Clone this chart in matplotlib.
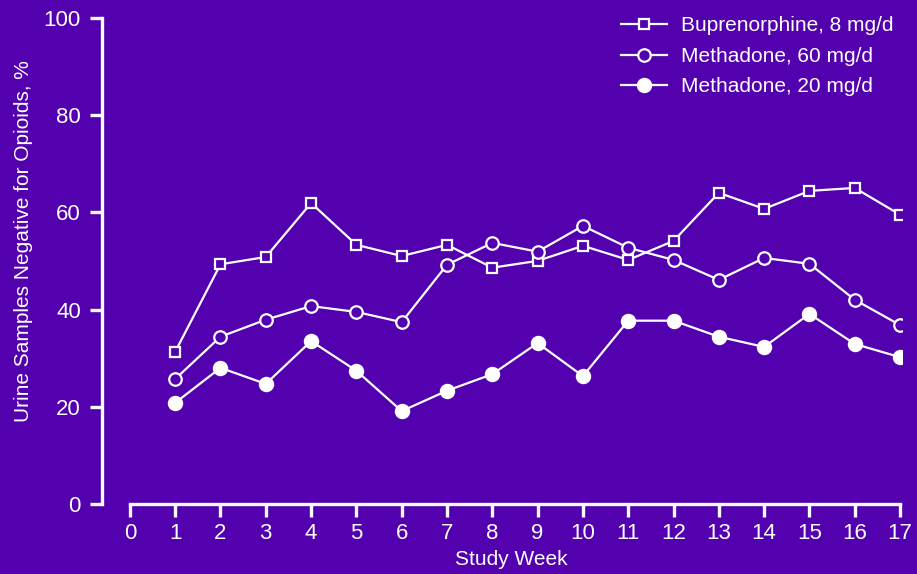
import matplotlib
matplotlib.use("Agg")
import matplotlib.pyplot as plt

weeks = list(range(1, 18))
bup8 = [31.3, 49.3, 50.8, 61.9, 53.3, 51.0, 53.3, 48.6, 50.0, 53.1, 50.2, 54.1, 64.0, 60.7, 64.4, 65.0, 59.5]
meth60 = [25.7, 34.4, 37.9, 40.7, 39.5, 37.4, 49.2, 53.7, 51.9, 57.2, 52.7, 50.2, 46.1, 50.6, 49.4, 42.0, 36.8]
meth20 = [20.8, 28.0, 24.7, 33.5, 27.4, 19.1, 23.3, 26.7, 33.1, 26.3, 37.7, 37.7, 34.4, 32.3, 39.1, 32.9, 30.2]
labels = ["Buprenorphine, 8 mg/d", "Methadone, 60 mg/d", "Methadone, 20 mg/d"]
xticks = list(range(0, 18))
yticks = [0, 20, 40, 60, 80, 100]

bg = "#5300AE"
fg = "white"
plt.rcParams['font.family'] = ['Liberation Sans', 'DejaVu Sans']

fig = plt.figure(figsize=(9.17, 5.74), dpi=100, facecolor=bg)
ax = fig.add_axes([0.111, 0.122, 0.873, 0.847], facecolor=bg)

ax.plot(weeks, bup8, color=fg, lw=1.6, marker='s', ms=7.5, mfc=bg, mec=fg, mew=1.6, label=labels[0])
ax.plot(weeks, meth60, color=fg, lw=1.6, marker='o', ms=9, mfc=bg, mec=fg, mew=1.6, label=labels[1])
ax.plot(weeks, meth20, color=fg, lw=1.6, marker='o', ms=9.5, mfc=fg, mec=fg, mew=1.6, label=labels[2])

ax.set_xlim(-0.62, 17.05)
ax.set_ylim(0, 100)
ax.set_xticks(xticks)
ax.set_yticks(yticks)
for s in ['top', 'right']:
    ax.spines[s].set_visible(False)
for s in ['left', 'bottom']:
    ax.spines[s].set_color(fg)
    ax.spines[s].set_linewidth(2.4)
ax.spines['left'].set_bounds(0, 100)
ax.spines['bottom'].set_bounds(0, 17)
ax.tick_params(axis='both', colors=fg, labelcolor=fg, width=2.4, length=9, labelsize=16, direction='out')
ax.tick_params(axis='x', pad=5)
ax.tick_params(axis='y', pad=6)

ax.set_xlabel("Study Week", color=fg, fontsize=15)
ax.xaxis.set_label_coords(0.512, -0.095)
ax.set_ylabel("Urine Samples Negative for Opioids, %", color=fg, fontsize=15)
ax.yaxis.set_label_coords(-0.086, 0.541)

leg = ax.legend(loc='upper right', frameon=False, fontsize=15, labelcolor=fg,
                handlelength=2.2, handletextpad=0.7, borderaxespad=0.0,
                bbox_to_anchor=(1.0, 1.02), labelspacing=0.55)

fig.savefig("out.png", dpi=100, facecolor=bg)
